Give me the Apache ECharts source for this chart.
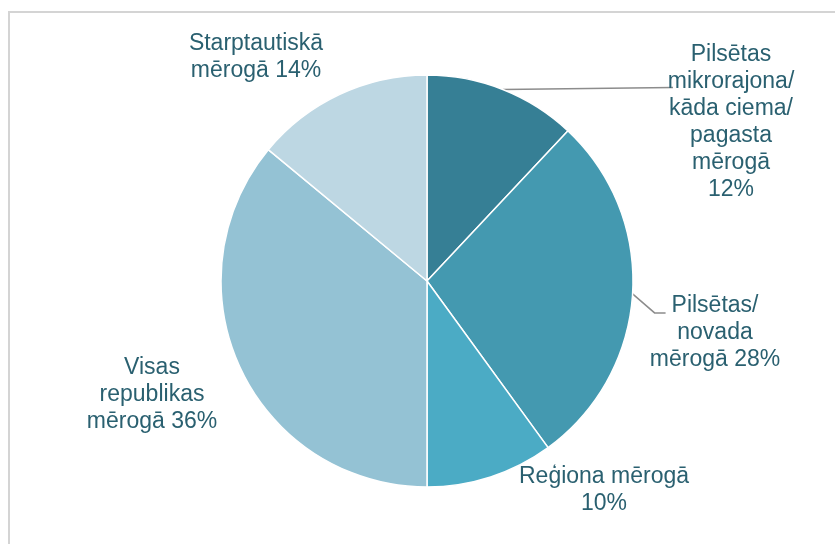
<!DOCTYPE html>
<html>
<head>
<meta charset="utf-8">
<script src="https://cdn.jsdelivr.net/npm/echarts@6/dist/echarts.min.js"></script>
<style>
html,body{margin:0;padding:0;background:#fff;}
#frame{position:absolute;left:8px;top:11px;width:840px;height:540px;border:2px solid #d4d4d4;box-sizing:border-box;}
#c{position:absolute;left:0;top:0;width:835px;height:544px;}
</style>
</head>
<body>
<div id="frame"></div>
<div id="c"></div>
<script>
const categories = [
  "Pilsētas\nmikrorajona/\nkāda ciema/\npagasta\nmērogā",
  "Pilsētas/\nnovada\nmērogā",
  "Reģiona mērogā\n",
  "Visas\nrepublikas\nmērogā",
  "Starptautiskā\nmērogā"
];
const values = [12, 28, 10, 36, 14];
const colors = ["#367F95", "#4499B0", "#4BABC5", "#94C2D4", "#BDD7E3"];
const labelCenters = [[731, 122], [715, 333], [604, 490], [152, 395], [256, 57]];
const showLine = [true, true, false, false, false];

const chart = echarts.init(document.getElementById('c'), null, {renderer: 'canvas'});
chart.setOption({
  backgroundColor: 'transparent',
  animation: false,
  series: [{
    type: 'pie',
    center: [427, 281],
    radius: 206,
    startAngle: 90,
    clockwise: true,
    avoidLabelOverlap: false,
    data: values.map((v, i) => ({
      value: v,
      name: categories[i],
      itemStyle: {color: colors[i]},
      labelLine: {show: showLine[i]}
    })),
    itemStyle: {borderColor: '#fff', borderWidth: 1.5},
    label: {
      show: true,
      position: 'outside',
      formatter: p => {
        const n = p.name;
        if (p.dataIndex === 0) return n + '\n' + p.value + '%';
        if (p.dataIndex === 2) return 'Reģiona mērogā\n' + p.value + '%';
        return n + ' ' + p.value + '%';
      },
      fontFamily: 'Liberation Sans, Arial, sans-serif',
      fontSize: 23,
      lineHeight: 27,
      color: '#2A6070'
    },
    labelLine: {
      show: true,
      length: 0,
      length2: 20,
      lineStyle: {color: '#8c8c8c', width: 1.5}
    },
    labelLayout: function (params) {
      const i = params.dataIndex;
      const c = labelCenters[i];
      const res = {x: c[0], y: c[1], align: 'center', verticalAlign: 'middle'};
      const pts = params.labelLinePoints;
      if (pts && pts.length) {
        const p0 = pts[0];
        if (i === 0) {
          res.labelLinePoints = [p0, [673, p0[1] - 2]];
        } else if (i === 1) {
          res.labelLinePoints = [p0, [p0[0] + 22, p0[1] + 19], [p0[0] + 33, p0[1] + 19]];
        }
      }
      return res;
    }
  }]
});
</script>
</body>
</html>
